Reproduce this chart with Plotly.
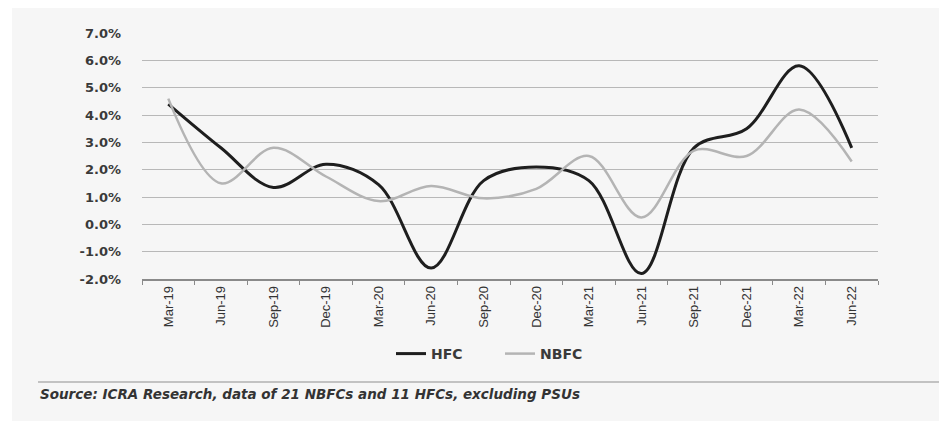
import plotly.graph_objects as go

# Quarterly series (per cent)
quarters = ["Mar-19", "Jun-19", "Sep-19", "Dec-19", "Mar-20", "Jun-20", "Sep-20",
            "Dec-20", "Mar-21", "Jun-21", "Sep-21", "Dec-21", "Mar-22", "Jun-22"]
hfc = [4.4, 2.8, 1.35, 2.2, 1.45, -1.6, 1.6, 2.1, 1.6, -1.8, 2.8, 3.5, 5.8, 2.8]
nbfc = [4.6, 1.5, 2.8, 1.75, 0.85, 1.4, 0.95, 1.3, 2.5, 0.25, 2.7, 2.5, 4.2, 2.3]
y_ticks = [-2, -1, 0, 1, 2, 3, 4, 5, 6, 7]
y_tick_text = [f"{v:.1f}%" for v in y_ticks]

W, H = 939, 421
L, R, T, B = 142, 878, 33, 279


def px_x(x):
    return (x - L) / (R - L)


def px_y(y):
    return (B - y) / (B - T)


fig = go.Figure()
fig.add_trace(go.Scatter(
    x=quarters, y=hfc, name="HFC", mode="lines",
    line=dict(color="#1e1e1e", width=3, shape="spline", smoothing=1.0),
))
fig.add_trace(go.Scatter(
    x=quarters, y=nbfc, name="NBFC", mode="lines",
    line=dict(color="#b4b4b4", width=2.5, shape="spline", smoothing=1.0),
))

fig.update_layout(
    width=W, height=H,
    margin=dict(l=L, r=W - R, t=T, b=H - B),
    paper_bgcolor="white",
    plot_bgcolor="rgba(0,0,0,0)",
    font=dict(family="DejaVu Sans", color="#3a3a3a"),
    showlegend=True,
    legend=dict(
        orientation="h", x=px_x(500), y=px_y(354), xanchor="center", yanchor="middle",
        font=dict(size=14, color="#3a3a3a", family="DejaVu Sans", weight="bold"),
        bgcolor="rgba(0,0,0,0)", tracegroupgap=0,
        entrywidth=64, entrywidthmode="pixels",
    ),
    xaxis=dict(
        type="category", range=[-0.5, len(quarters) - 0.5],
        showgrid=False, zeroline=False,
        showline=True, linecolor="#8a8a8a", linewidth=1.5,
        ticks="outside", tickson="boundaries", ticklen=4, tickcolor="#8a8a8a",
        tickangle=-90,
        tickfont=dict(size=13, family="Liberation Sans", color="#333333"),
    ),
    yaxis=dict(
        range=[-2, 7], tickvals=y_ticks, ticktext=y_tick_text,
        showgrid=True, gridcolor="#b8b8b8", gridwidth=1, zeroline=False,
        showline=False, ticks="", ticklabelstandoff=20,
        tickfont=dict(size=13, color="#3a3a3a", family="DejaVu Sans", weight="bold"),
    ),
    shapes=[
        # paper tone of the printed page
        dict(type="rect", xref="paper", yref="paper",
             x0=px_x(12), x1=px_x(W), y0=px_y(H), y1=px_y(8),
             fillcolor="#f6f6f6", line=dict(width=0), layer="below"),
        # rule above the source line
        dict(type="line", xref="paper", yref="paper",
             x0=px_x(38), x1=px_x(W), y0=px_y(382), y1=px_y(382),
             line=dict(color="#b0b0b0", width=1.5)),
    ],
    annotations=[
        dict(text="<b><i>Source: ICRA Research, data of 21 NBFCs and 11 HFCs, excluding PSUs</i></b>",
             xref="paper", yref="paper", x=px_x(38), y=px_y(394),
             xanchor="left", yanchor="middle", showarrow=False,
             font=dict(size=13.5, color="#333333", family="DejaVu Sans")),
    ],
)

fig.write_html("out.html")
